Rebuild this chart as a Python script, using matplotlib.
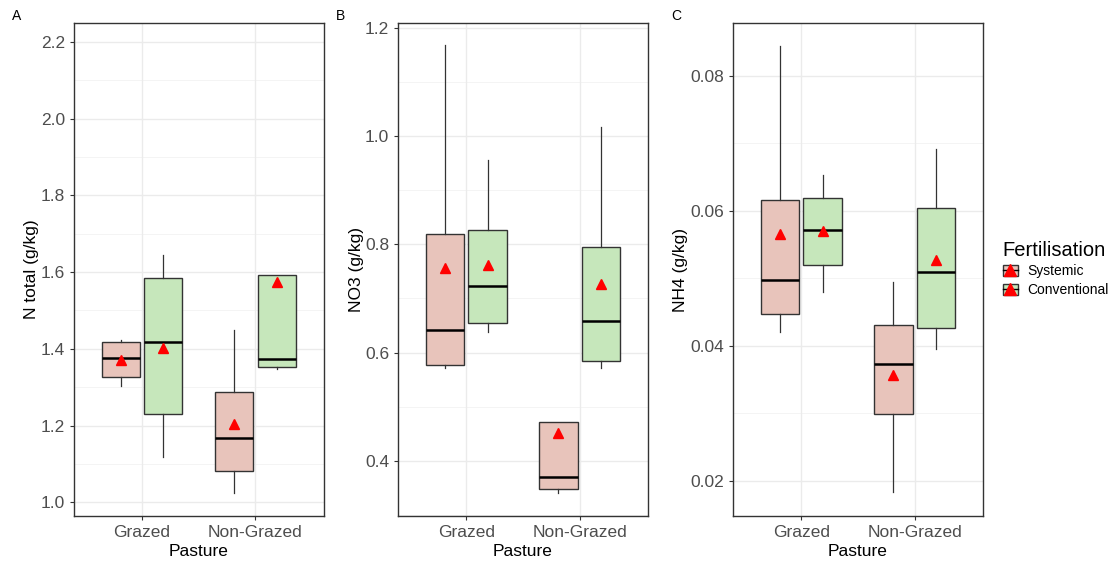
import matplotlib
matplotlib.use("Agg")
import matplotlib.pyplot as plt
from matplotlib.patches import Patch
from matplotlib.lines import Line2D

plt.rcParams['font.family'] = ['Liberation Sans', 'DejaVu Sans']

pastures = ["Grazed", "Non-Grazed"]
treatments = ["Systemic", "Conventional"]
fills = {"Systemic": "#e8c4bb", "Conventional": "#c6e7bb"}

# summary stats per panel: [Grazed, Non-Grazed] for each treatment
# N total (g/kg)
ntot_q1 = {"Systemic": [1.327, 1.082], "Conventional": [1.230, 1.352]}
ntot_med = {"Systemic": [1.376, 1.168], "Conventional": [1.418, 1.374]}
ntot_q3 = {"Systemic": [1.417, 1.287], "Conventional": [1.585, 1.592]}
ntot_lo = {"Systemic": [1.304, 1.025], "Conventional": [1.118, 1.348]}
ntot_hi = {"Systemic": [1.422, 1.448], "Conventional": [1.645, 1.592]}
ntot_mean = {"Systemic": [1.370, 1.203], "Conventional": [1.403, 1.575]}

# NO3 (g/kg)
no3_q1 = {"Systemic": [0.577, 0.348], "Conventional": [0.655, 0.585]}
no3_med = {"Systemic": [0.642, 0.369], "Conventional": [0.723, 0.658]}
no3_q3 = {"Systemic": [0.819, 0.471], "Conventional": [0.826, 0.796]}
no3_lo = {"Systemic": [0.572, 0.341], "Conventional": [0.638, 0.572]}
no3_hi = {"Systemic": [1.168, 0.471], "Conventional": [0.957, 1.017]}
no3_mean = {"Systemic": [0.756, 0.452], "Conventional": [0.761, 0.727]}

# NH4 (g/kg)
nh4_q1 = {"Systemic": [0.0447, 0.0299], "Conventional": [0.0520, 0.0427]}
nh4_med = {"Systemic": [0.0498, 0.0373], "Conventional": [0.0572, 0.0509]}
nh4_q3 = {"Systemic": [0.0616, 0.0431], "Conventional": [0.0619, 0.0605]}
nh4_lo = {"Systemic": [0.0420, 0.0183], "Conventional": [0.0480, 0.0396]}
nh4_hi = {"Systemic": [0.0845, 0.0495], "Conventional": [0.0653, 0.0692]}
nh4_mean = {"Systemic": [0.0566, 0.0357], "Conventional": [0.0570, 0.0527]}

panels = [
    dict(tag="A", ylabel="N total (g/kg)", q1=ntot_q1, med=ntot_med, q3=ntot_q3,
         lo=ntot_lo, hi=ntot_hi, mean=ntot_mean, ylim=(0.964, 2.249),
         ticks=[1.0, 1.2, 1.4, 1.6, 1.8, 2.0, 2.2], fmt="{:.1f}", step=0.1,
         left=74, ylab_x=31.7),
    dict(tag="B", ylabel="NO3 (g/kg)", q1=no3_q1, med=no3_med, q3=no3_q3,
         lo=no3_lo, hi=no3_hi, mean=no3_mean, ylim=(0.2976, 1.209),
         ticks=[0.4, 0.6, 0.8, 1.0, 1.2], fmt="{:.1f}", step=0.1,
         left=398.3, ylab_x=356),
    dict(tag="C", ylabel="NH4 (g/kg)", q1=nh4_q1, med=nh4_med, q3=nh4_q3,
         lo=nh4_lo, hi=nh4_hi, mean=nh4_mean, ylim=(0.0148, 0.0878),
         ticks=[0.02, 0.04, 0.06, 0.08], fmt="{:.2f}", step=0.01,
         left=733.3, ylab_x=680),
]

W, H = 1118, 568
ax_w, ax_top, ax_bot = 249.5, 23.3, 516
fig = plt.figure(figsize=(W / 100, H / 100), dpi=100)

offsets = {"Systemic": -0.1875, "Conventional": 0.1875}
box_w = 0.338

for p in panels:
    ax = fig.add_axes([p["left"] / W, (H - ax_bot) / H, ax_w / W, (ax_bot - ax_top) / H])
    ax.set_xlim(0.4, 2.6)
    ax.set_ylim(*p["ylim"])

    # ggplot-like background grid
    lo_, hi_ = p["ylim"]
    minor = []
    v = p["ticks"][0] - p["step"]
    while v < hi_:
        if v > lo_ and all(abs(v - t) > 1e-9 for t in p["ticks"]):
            minor.append(v)
        v += 2 * p["step"]
    for m in minor:
        ax.axhline(m, color="#f2f2f2", lw=0.6, zorder=0)
    for t in p["ticks"]:
        ax.axhline(t, color="#ebebeb", lw=1.0, zorder=0)
    for x in [1, 2]:
        ax.axvline(x, color="#ebebeb", lw=1.0, zorder=0)

    for tr in treatments:
        stats = []
        for i in range(2):
            stats.append(dict(med=p["med"][tr][i], q1=p["q1"][tr][i], q3=p["q3"][tr][i],
                              whislo=p["lo"][tr][i], whishi=p["hi"][tr][i],
                              mean=p["mean"][tr][i], fliers=[]))
        pos = [i + 1 + offsets[tr] for i in range(2)]
        ax.bxp(stats, positions=pos, widths=box_w, patch_artist=True,
               showmeans=True, showcaps=False, showfliers=False,
               boxprops=dict(facecolor=fills[tr], edgecolor="#333333", lw=1.0),
               medianprops=dict(color="black", lw=1.8),
               whiskerprops=dict(color="#333333", lw=0.9),
               meanprops=dict(marker="^", markerfacecolor="red", markeredgecolor="red",
                              markersize=7.5),
               manage_ticks=False, zorder=2)

    ax.set_xticks([1, 2])
    ax.set_xticklabels(pastures)
    ax.set_yticks(p["ticks"])
    ax.set_yticklabels([p["fmt"].format(t) for t in p["ticks"]])
    ax.tick_params(colors="#333333", labelcolor="#4d4d4d", labelsize=12.5,
                   length=3, width=0.8)
    for s in ax.spines.values():
        s.set_color("#333333")
        s.set_linewidth(1.0)
    ax.set_xlabel("Pasture", fontsize=12.5, labelpad=3)
    ax.set_ylabel(p["ylabel"], fontsize=12.5)
    ax.yaxis.set_label_coords((p["ylab_x"] - p["left"]) / ax_w, 0.5)
    ax.yaxis.label.set_va("center")
    fig.text((p["left"] - 62) / W, 1 - 16 / H, p["tag"], fontsize=10, va="center")

handles = [(Patch(facecolor=fills[tr], edgecolor="#333333"),
            Line2D([], [], color="black", lw=1, marker="^", markerfacecolor="red",
                   markeredgecolor="red", markersize=8))
           for tr in treatments]
fig.legend(handles, treatments, title="Fertilisation", loc="upper left",
           bbox_to_anchor=(990 / W, 1 - 228 / H), frameon=False, fontsize=10,
           title_fontsize=14.5, handlelength=1.1, handleheight=0.85,
           handletextpad=0.7, labelspacing=0.35, alignment="left", numpoints=1)

fig.savefig("out.png", dpi=100)
